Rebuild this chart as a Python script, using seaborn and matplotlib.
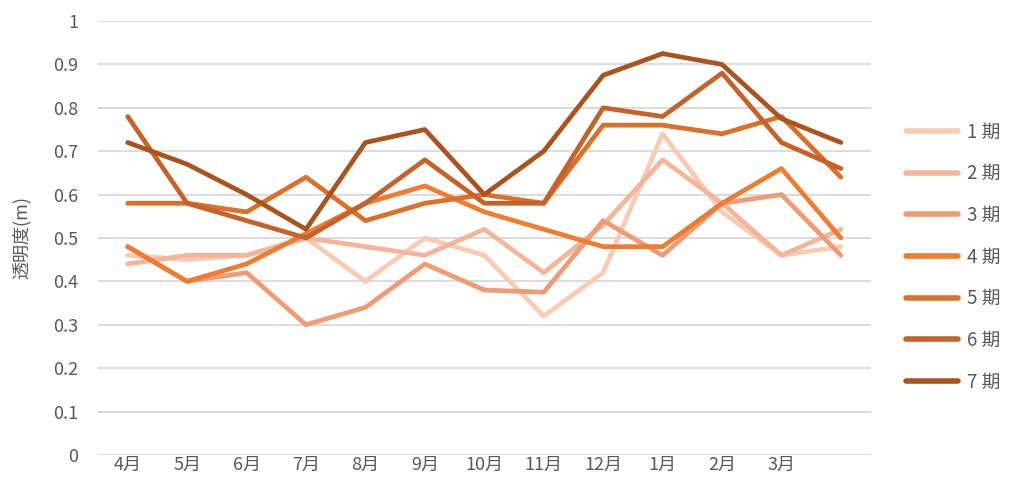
import pandas as pd
import matplotlib
matplotlib.use('Agg')
import matplotlib.pyplot as plt
import seaborn as sns
from matplotlib.ticker import FuncFormatter

# Month labels (13th point has no label in the original)
months = ['4月', '5月', '6月', '7月', '8月', '9月', '10月', '11月', '12月', '1月', '2月', '3月']
periods = ['1 期', '2 期', '3 期', '4 期', '5 期', '6 期', '7 期']

# Transparency values
p1 = [0.46, 0.45, 0.46, 0.50, 0.40, 0.50, 0.46, 0.32, 0.42, 0.74, 0.56, 0.46, 0.48]
p2 = [0.44, 0.46, 0.46, 0.50, 0.48, 0.46, 0.52, 0.42, 0.53, 0.68, 0.58, 0.46, 0.52]
p3 = [0.48, 0.40, 0.42, 0.30, 0.34, 0.44, 0.38, 0.375, 0.54, 0.46, 0.58, 0.60, 0.46]
p4 = [0.48, 0.40, 0.44, 0.51, 0.58, 0.62, 0.56, 0.52, 0.48, 0.48, 0.58, 0.66, 0.50]
p5 = [0.58, 0.58, 0.56, 0.64, 0.54, 0.58, 0.60, 0.58, 0.76, 0.76, 0.74, 0.78, 0.64]
p6 = [0.78, 0.58, 0.54, 0.50, 0.58, 0.68, 0.58, 0.58, 0.80, 0.78, 0.88, 0.72, 0.66]
p7 = [0.72, 0.67, 0.60, 0.52, 0.72, 0.75, 0.60, 0.70, 0.875, 0.925, 0.90, 0.775, 0.72]

colors = ['#F7CBB4', '#F4B59B', '#EF9B75', '#EE7D32', '#DB7029', '#C5622A', '#A9541F']

# long-form table for seaborn
rows = []
for name, vals in zip(periods, [p1, p2, p3, p4, p5, p6, p7]):
    for i, v in enumerate(vals):
        rows.append({'pos': i, 'value': v, 'period': name})
df = pd.DataFrame(rows)

sns.set_theme(style='white')
plt.rcParams['font.family'] = ['Noto Sans CJK JP', 'DejaVu Sans']

fig = plt.figure(figsize=(10.1, 5.01), dpi=100)
ax = fig.add_axes([0.097, 0.092, 0.765, 0.866])

sns.lineplot(data=df, x='pos', y='value', hue='period', hue_order=periods,
             palette=colors, linewidth=3.4, ax=ax, legend=True)

ax.set_xlim(-0.5, 12.5)
ax.set_ylim(0, 1)
ax.set_yticks([i / 10 for i in range(11)])
ax.yaxis.set_major_formatter(FuncFormatter(lambda v, _: f'{v:g}'))
ax.set_xticks(range(len(months)))
ax.set_xticklabels(months)
ax.grid(axis='y', color='#D9D9D9', linewidth=1.3)
ax.set_axisbelow(True)
for s in ax.spines.values():
    s.set_visible(False)
ax.tick_params(axis='both', colors='#595959', labelsize=13, length=0)
ax.tick_params(axis='x', pad=1)
ax.tick_params(axis='y', pad=14)
ax.set_xlabel('')
ax.set_ylabel('透明度(m)', color='#595959', fontsize=13, labelpad=16)

handles, labels = ax.get_legend_handles_labels()
ax.get_legend().remove()
leg = fig.legend(handles, labels, loc='center left', bbox_to_anchor=(0.88, 0.487),
                 frameon=False, fontsize=13.5, handlelength=2.8, handletextpad=0.45,
                 labelspacing=1.1)
for t in leg.get_texts():
    t.set_color('#595959')
for h in leg.get_lines():
    h.set_linewidth(4)
    h.set_solid_capstyle('round')

fig.savefig('out.png', dpi=100)
